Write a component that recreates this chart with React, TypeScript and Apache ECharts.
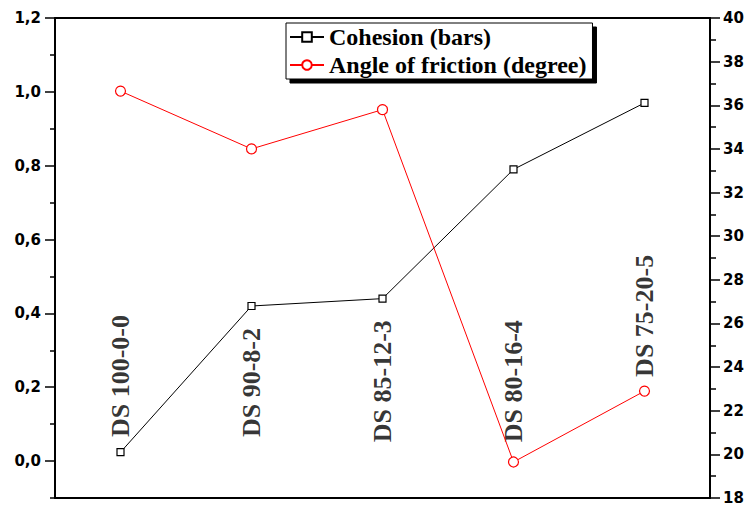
import React, { useEffect, useRef } from "react";
import * as echarts from "echarts";

const categories = ["DS 100-0-0", "DS 90-8-2", "DS 85-12-3", "DS 80-16-4", "DS 75-20-5"];
const cohesion = [0.024, 0.42, 0.44, 0.79, 0.97];
const friction = [36.65, 34.0, 35.8, 19.65, 22.9];
const labelHeights = [0.065, 0.065, 0.051, 0.051, 0.228];
const leftMajorTicks = [0, 0.2, 0.4, 0.6, 0.8, 1.0, 1.2];
const leftMinorTicks = [-0.1, 0.1, 0.3, 0.5, 0.7, 0.9, 1.1];

export default function App() {
  const ref = useRef<HTMLDivElement>(null);
  useEffect(() => {
    if (!ref.current) return;
    const chart = echarts.init(ref.current, null, { renderer: "svg" });
    const axisFont = { fontFamily: "DejaVu Sans", fontWeight: "bold", fontSize: 15, color: "#000" };
    chart.setOption({
      animation: false,
      backgroundColor: "#fff",
      grid: { left: 55, right: 39, top: 18, bottom: 11, containLabel: false },
      legend: {
        orient: "vertical",
        left: 286,
        top: 23,
        data: ["Cohesion (bars)", "Angle of friction (degree)"],
        backgroundColor: "#fff",
        borderColor: "#000",
        borderWidth: 1,
        shadowColor: "#000",
        shadowBlur: 0,
        shadowOffsetX: 4,
        shadowOffsetY: 4,
        padding: [2, 6, 2, 3],
        itemGap: 4,
        itemWidth: 34,
        itemHeight: 12,
        textStyle: { fontFamily: "Liberation Serif", fontWeight: "bold", fontSize: 24, color: "#000" },
      },
      xAxis: [
        {
          type: "category",
          data: categories,
          position: "bottom",
          boundaryGap: true,
          axisLine: { onZero: false, lineStyle: { color: "#000", width: 2 } },
          axisTick: { alignWithLabel: true, length: 9, lineStyle: { color: "#000", width: 1.5 } },
          axisLabel: { show: false },
          splitLine: { show: false },
        },
        {
          type: "category",
          data: categories,
          position: "top",
          boundaryGap: true,
          axisLine: { onZero: false, lineStyle: { color: "#000", width: 2 } },
          axisTick: { alignWithLabel: true, inside: true, length: 5, lineStyle: { color: "#000", width: 1.5 } },
          axisLabel: { show: false },
          splitLine: { show: false },
        },
      ],
      yAxis: [
        {
          type: "value",
          position: "left",
          min: -0.1,
          max: 1.2,
          interval: 0.1,
          axisLine: { show: true, onZero: false, lineStyle: { color: "#000", width: 2 } },
          axisTick: { show: true, length: 10, customValues: leftMajorTicks, lineStyle: { color: "#000", width: 1.5 } },
          axisLabel: {
            ...axisFont,
            margin: 14,
            customValues: leftMajorTicks,
            formatter: (v: number) => v.toFixed(1).replace(".", ","),
          },
          splitLine: { show: false },
        },
        {
          type: "value",
          position: "left",
          min: -0.1,
          max: 1.2,
          interval: 0.1,
          axisLine: { show: false, onZero: false },
          axisTick: { show: true, length: 5, customValues: leftMinorTicks, lineStyle: { color: "#000", width: 1.5 } },
          axisLabel: { show: false },
          splitLine: { show: false },
        },
        {
          type: "value",
          position: "right",
          min: 18,
          max: 40,
          interval: 2,
          axisLine: { show: true, onZero: false, lineStyle: { color: "#000", width: 2 } },
          axisTick: { show: true, length: 10, lineStyle: { color: "#000", width: 1.5 } },
          minorTick: { show: true, splitNumber: 2, length: 6, lineStyle: { color: "#000", width: 1.5 } },
          axisLabel: { ...axisFont, margin: 13 },
          splitLine: { show: false },
        },
      ],
      series: [
        {
          name: "Cohesion (bars)",
          type: "line",
          xAxisIndex: 0,
          yAxisIndex: 0,
          data: cohesion,
          symbol: "rect",
          symbolSize: 7,
          showAllSymbol: true,
          lineStyle: { color: "#000", width: 1 },
          itemStyle: { color: "#fff", borderColor: "#000", borderWidth: 1.2 },
          color: "#000",
        },
        {
          name: "Angle of friction (degree)",
          type: "line",
          xAxisIndex: 0,
          yAxisIndex: 2,
          data: friction,
          symbol: "circle",
          symbolSize: 10,
          lineStyle: { color: "#ff0000", width: 1 },
          itemStyle: { color: "#fff", borderColor: "#ff0000", borderWidth: 1.2 },
          color: "#ff0000",
        },
        {
          name: "labels",
          type: "scatter",
          xAxisIndex: 0,
          yAxisIndex: 0,
          silent: true,
          symbolSize: 1,
          itemStyle: { color: "transparent" },
          data: categories.map((c, i) => ({ value: [i, labelHeights[i]], name: c })),
          label: {
            show: true,
            formatter: (p: any) => p.name,
            position: "inside",
            rotate: 90,
            align: "left",
            verticalAlign: "middle",
            fontFamily: "Liberation Serif",
            fontWeight: "bold",
            fontSize: 26,
            color: "#000",
          },
        },
      ],
    });
    return () => chart.dispose();
  }, []);
  return <div ref={ref} style={{ width: 749, height: 509, position: "absolute", left: 0, top: 0 }} />;
}
